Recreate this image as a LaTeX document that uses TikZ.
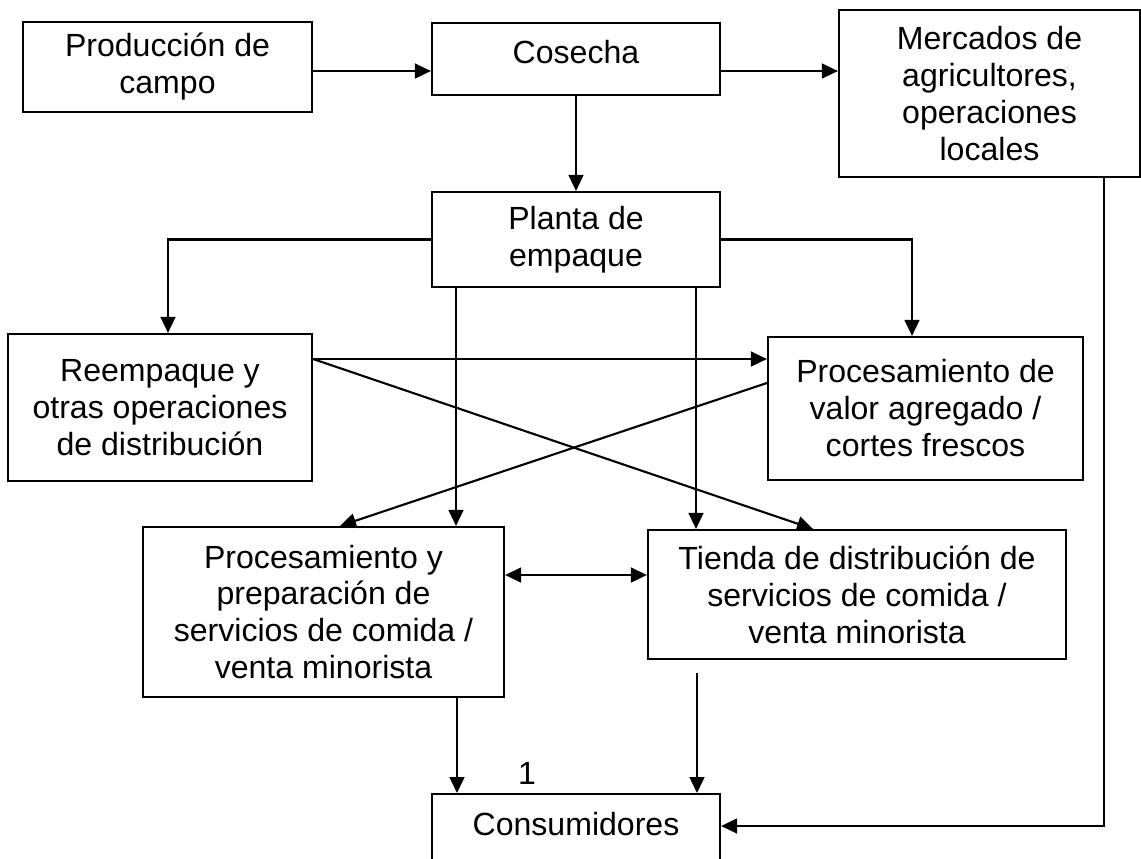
\documentclass[tikz,border=0pt]{standalone}
\usepackage{fontspec}
\setmainfont{Liberation Sans}
\usepackage{tikz}
\usetikzlibrary{arrows.meta}

\tikzset{
    caja/.style={draw, line width=1.5pt, align=center, inner sep=2pt,
        font=\fontsize{22.8}{26.3}\selectfont},
    flecha/.style={line width=1.5pt, -{Triangle[length=0.4cm, width=0.37cm]}},
    dobleflecha/.style={line width=1.5pt, {Triangle[length=0.4cm, width=0.37cm]}-{Triangle[length=0.4cm, width=0.37cm]}}
}

\begin{document}
\begin{tikzpicture}[x=0.025cm, y=-0.025cm]
            \useasboundingbox (0,0) rectangle (1141,858);
            \clip (0,0) rectangle (1141,858);

            %Nodes
            \node[caja, minimum width=7.225cm, minimum height=2.25cm] at (167.5,67) (prod) {Producción de\\campo};
            \node[caja, align=left, text depth=0.36cm, minimum width=7.2cm, minimum height=1.8cm] at (576,59) (cosecha) {Cosecha};
            \node[caja, minimum width=7.525cm, minimum height=4.175cm] at (989.5,93.5) (mercados) {Mercados de\\agricultores,\\operaciones\\locales};
            \node[caja, minimum width=7.2cm, minimum height=2.375cm] at (576,239.5) (planta) {Planta de\\empaque};
            \node[caja, minimum width=7.6cm, minimum height=3.675cm] at (160,407.5) (reemp) {Reempaque y\\otras operaciones\\de distribución};
            \node[caja, minimum width=7.875cm, minimum height=3.575cm] at (925.5,408.5) (valor) {Procesamiento de\\valor agregado /\\cortes frescos};
            \node[caja, minimum width=9.025cm, minimum height=4.25cm] at (323.5,612) (prep) {Procesamiento y\\preparación de\\servicios de comida /\\venta minorista};
            \node[caja, minimum width=10.45cm, minimum height=3.225cm] at (857,594.5) (tienda) {Tienda de distribución de\\servicios de comida /\\venta minorista};
            \node[caja, align=left, minimum width=7.2cm, inner ysep=0pt, text height=1.04cm, text depth=1.14cm, anchor=north] at (576,793) (cons) {Consumidores};
            \node[font=\fontsize{22.8}{26.3}\selectfont] at (527,773) (uno) {1};

            %Lines
            \draw[flecha] (prod.east |- 0,71) -- (cosecha.west |- 0,71);
            \draw[flecha] (cosecha.east |- 0,71) -- (mercados.west |- 0,71);
            \draw[flecha] (cosecha.south) -- (planta.north);
            \draw[flecha] (planta.west) -| (168,0 |- reemp.north);
            \draw[flecha] (planta.east) -| (912,0 |- valor.north);
            \draw[flecha] (planta.south -| 456,0) -- (prep.north -| 456,0);
            \draw[flecha] (planta.south -| 696,0) -- (tienda.north -| 696,0);
            \draw[flecha] (reemp.east |- 0,359) -- (valor.west |- 0,359);
            \draw[flecha] (reemp.east |- 0,359) -- (tienda.north -| 813,0);
            \draw[flecha] (valor.west |- 0,383) -- (prep.north -| 340,0);
            \draw[dobleflecha] (prep.east |- 0,575) -- (tienda.west |- 0,575);
            \draw[flecha] (prep.south -| 457,0) -- (cons.north -| 457,0);
            \draw[flecha, shorten <=0.33cm] (tienda.south -| 697,0) -- (cons.north -| 697,0);
            \draw[flecha] (mercados.south -| 1104,0) |- (cons.east |- 0,826);
        \end{tikzpicture}
\end{document}
